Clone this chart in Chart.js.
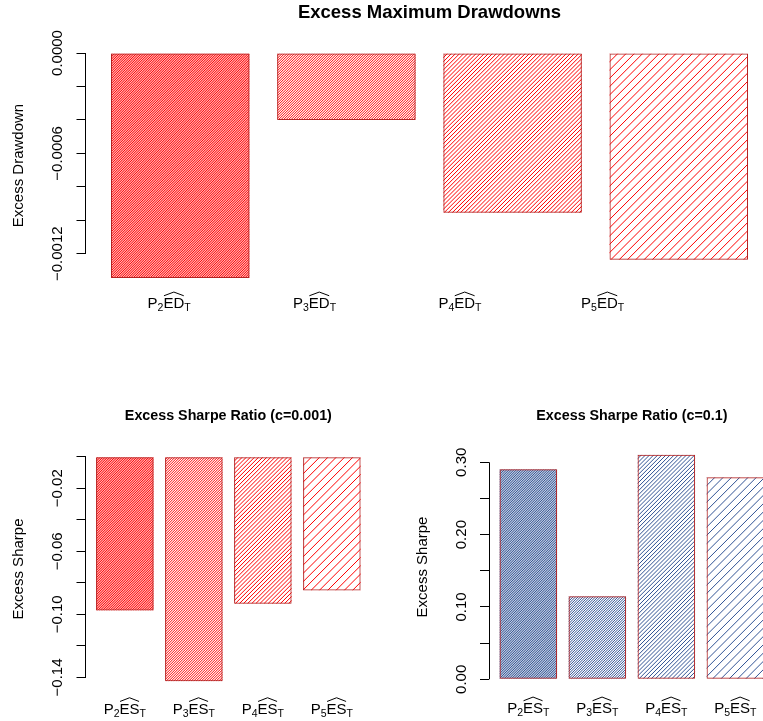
<!DOCTYPE html>
<html>
<head>
<meta charset="utf-8">
<script src="https://cdn.jsdelivr.net/npm/chart.js@4.4.1/dist/chart.umd.min.js"></script>
<style>
  html, body { margin: 0; padding: 0; background: #fff; overflow: hidden; width: 763px; height: 721px; }
  canvas { position: absolute; display: block; }
</style>
</head>
<body>
<canvas id="drawdown" width="790" height="330" style="left:0;top:0"></canvas>
<canvas id="sharpeLow" width="381" height="331" style="left:0;top:390px"></canvas>
<canvas id="sharpeHigh" width="420" height="331" style="left:381px;top:390px"></canvas>
<script>
// ---- data ----
const portfolios = ['2', '3', '4', '5'];            // subscript of P in each category label
const drawdownValues = [-0.001345, -0.000400, -0.000955, -0.001236];
const sharpeLowValues = [-0.0975, -0.1424, -0.0932, -0.0848];   // c = 0.001
const sharpeHighValues = [0.2903, 0.1147, 0.3105, 0.2792];      // c = 0.1

const drawdownTicks = [0, -0.0002, -0.0004, -0.0006, -0.0008, -0.0010, -0.0012];
const drawdownTickLabels = ['0.0000', '', '', '\u22120.0006', '', '', '\u22120.0012'];
const sharpeLowTicks = [0, -0.02, -0.04, -0.06, -0.08, -0.10, -0.12, -0.14];
const sharpeLowTickLabels = ['', '\u22120.02', '', '\u22120.06', '', '\u22120.10', '', '\u22120.14'];
const sharpeHighTicks = [0, 0.05, 0.10, 0.15, 0.20, 0.25, 0.30];
const sharpeHighTickLabels = ['0.00', '', '0.10', '', '0.20', '', '0.30'];

// ---- layout helpers ----
const FAMILY = '"Liberation Sans", Arial, Helvetica, sans-serif';
const BAR_W = 1, BAR_SPACE = 0.2;                      // barplot-style geometry
const barCenters = portfolios.map((_, i) => BAR_SPACE + BAR_W / 2 + i * (BAR_W + BAR_SPACE));
const xLo = BAR_SPACE, xHi = portfolios.length * (BAR_W + BAR_SPACE);
const xPad = 0.04 * (xHi - xLo);
// category label slots on the top panel's x scale
const drawdownLabelSlots = [0.62, 1.67, 2.72, 3.75];

const hatchSpacing = [1.7, 2.5, 4.1, 8.3];              // horizontal gap between hatch lines

function yRange(values) {
  const lo = Math.min(0, ...values), hi = Math.max(0, ...values);
  const pad = 0.04 * (hi - lo);
  return { min: lo - pad, max: hi + pad };
}

const measureCtx = document.createElement('canvas').getContext('2d');
function widestLabel(labels, size) {
  measureCtx.font = size + 'px ' + FAMILY;
  return Math.max(...labels.map(l => measureCtx.measureText(l).width));
}

// diagonal hatch fill drawn inside each bar before the bar outline
const hatchPlugin = {
  id: 'hatchFill',
  beforeDatasetsDraw(chart, args, opts) {
    const ctx = chart.ctx;
    chart.getDatasetMeta(0).data.forEach((bar, i) => {
      const p = bar.getProps(['x', 'y', 'base', 'width'], true);
      const l = p.x - p.width / 2, r = p.x + p.width / 2;
      const t = Math.min(p.y, p.base), b = Math.max(p.y, p.base);
      const s = opts.spacing[i];
      ctx.save();
      ctx.beginPath();
      ctx.rect(l, t, r - l, b - t);
      ctx.clip();
      ctx.strokeStyle = opts.color;
      ctx.lineWidth = opts.lineWidth;
      ctx.beginPath();
      for (let c = l + t; c <= r + b + s; c += s) {
        ctx.moveTo(c - b, b);
        ctx.lineTo(c - t, t);
      }
      ctx.stroke();
      ctx.restore();
    });
  }
};

// y axis line running from the first to the last tick
const axisLinePlugin = {
  id: 'axisLine',
  afterDraw(chart) {
    const ys = chart.scales.y, ctx = chart.ctx;
    const px = ys.ticks.map(t => ys.getPixelForValue(t.value));
    const x = Math.round(ys.right - 0.5) + 0.5;
    ctx.save();
    ctx.strokeStyle = '#000';
    ctx.lineWidth = 1;
    ctx.beginPath();
    ctx.moveTo(x, Math.min(...px));
    ctx.lineTo(x, Math.max(...px));
    ctx.stroke();
    ctx.restore();
  }
};

// category labels of the form P_k followed by a hatted stem with subscript T
const hatLabelPlugin = {
  id: 'hatLabels',
  afterDraw(chart, args, o) {
    const ctx = chart.ctx, xs = chart.scales.x;
    const baseY = chart.chartArea.bottom + o.offset;
    const main = o.size + 'px ' + FAMILY;
    const sub = (o.size * 0.7) + 'px ' + FAMILY;
    const capH = o.size * 0.716;
    ctx.save();
    ctx.fillStyle = '#000';
    ctx.textBaseline = 'alphabetic';
    ctx.textAlign = 'left';
    o.slots.forEach((slot, i) => {
      const cx = xs.getPixelForValue(slot);
      ctx.font = main; const wP = ctx.measureText('P').width; const wStem = ctx.measureText(o.stem).width;
      ctx.font = sub; const wK = ctx.measureText(portfolios[i]).width; const wT = ctx.measureText('T').width;
      let x = cx - (wP + wK + wStem + wT) / 2;
      ctx.font = main; ctx.fillText('P', x, baseY); x += wP;
      ctx.font = sub; ctx.fillText(portfolios[i], x, baseY + o.subDrop); x += wK;
      ctx.font = main; ctx.fillText(o.stem, x, baseY);
      // wide hat over the stem
      ctx.beginPath();
      ctx.strokeStyle = '#000';
      ctx.lineWidth = 1;
      ctx.moveTo(x + 0.5, baseY - capH - 1.8);
      ctx.lineTo(x + wStem / 2, baseY - capH - 5.5);
      ctx.lineTo(x + wStem - 0.5, baseY - capH - 1.8);
      ctx.stroke();
      x += wStem;
      ctx.font = sub; ctx.fillText('T', x, baseY + o.subDrop);
    });
    ctx.restore();
  }
};

function makeChart(id, cfg) {
  const range = yRange(cfg.values);
  const tickSize = 15;
  const wid = widestLabel(cfg.tickLabels, tickSize);
  const tickPad = cfg.axisX - 9 - cfg.tickLabelX - wid / 2;
  return new Chart(document.getElementById(id), {
    type: 'bar',
    data: {
      datasets: [{
        data: cfg.values.map((v, i) => ({ x: barCenters[i], y: v })),
        backgroundColor: 'rgba(0,0,0,0)',
        borderColor: '#B22222',
        borderWidth: 1,
        borderSkipped: false,
        inflateAmount: 0,
        categoryPercentage: 1,
        barPercentage: BAR_W / (BAR_W + BAR_SPACE)
      }]
    },
    options: {
      responsive: false,
      animation: false,
      devicePixelRatio: 1,
      layout: { padding: cfg.padding },
      scales: {
        x: {
          type: 'linear',
          display: false,
          offset: false,
          min: xLo - xPad,
          max: xHi + xPad,
          afterBuildTicks: s => { s.ticks = barCenters.map(v => ({ value: v })); }
        },
        y: {
          min: range.min,
          max: range.max,
          afterBuildTicks: s => { s.ticks = cfg.ticks.map(v => ({ value: v })); },
          afterFit: s => { s.width = cfg.axisX; },
          ticks: {
            autoSkip: false,
            minRotation: 90,
            maxRotation: 90,
            crossAlign: 'center',
            padding: tickPad,
            color: '#000',
            font: { family: FAMILY, size: tickSize },
            callback: (v, i) => cfg.tickLabels[i]
          },
          grid: { drawOnChartArea: false, drawTicks: true, tickLength: 9, color: '#000', lineWidth: 1 },
          border: { display: false },
          title: {
            display: true,
            text: cfg.yTitle,
            color: '#000',
            font: { family: FAMILY, size: 15 },
            padding: { top: cfg.yTitleX - 9, bottom: 0 }
          }
        }
      },
      plugins: {
        legend: { display: false },
        tooltip: { enabled: false },
        title: {
          display: true,
          text: cfg.title,
          fullSize: false,
          color: '#000',
          font: { family: FAMILY, size: cfg.titleSize, weight: 'bold' },
          padding: cfg.titlePadding
        },
        hatchFill: { spacing: hatchSpacing, color: cfg.hatchColor, lineWidth: 1 },
        hatLabels: { slots: cfg.labelSlots, stem: cfg.stem, size: 15, offset: cfg.labelOffset, subDrop: 3 }
      }
    },
    plugins: [hatchPlugin, axisLinePlugin, hatLabelPlugin]
  });
}

makeChart('drawdown', {
  values: drawdownValues,
  ticks: drawdownTicks,
  tickLabels: drawdownTickLabels,
  title: 'Excess Maximum Drawdowns',
  titleSize: 18.5,
  titlePadding: { top: 1.9, bottom: 19.9 },
  yTitle: 'Excess Drawdown',
  yTitleX: 19,
  axisX: 85.5,
  tickLabelX: 58.2,
  padding: { left: 0, top: 0, right: 16.5, bottom: 43 },
  hatchColor: '#FF0000',
  labelSlots: drawdownLabelSlots,
  stem: 'ED',
  labelOffset: 21.3
});

makeChart('sharpeLow', {
  values: sharpeLowValues,
  ticks: sharpeLowTicks,
  tickLabels: sharpeLowTickLabels,
  title: 'Excess Sharpe Ratio (c=0.001)',
  titleSize: 14.3,
  titlePadding: { top: 17.1, bottom: 23.44 },
  yTitle: 'Excess Sharpe',
  yTitleX: 19,
  axisX: 85.5,
  tickLabelX: 58.2,
  padding: { left: 0, top: 0, right: 9.8, bottom: 30.8 },
  hatchColor: '#FF0000',
  labelSlots: barCenters,
  stem: 'ES',
  labelOffset: 23.8
});

makeChart('sharpeHigh', {
  values: sharpeHighValues,
  ticks: sharpeHighTicks,
  tickLabels: sharpeHighTickLabels,
  title: 'Excess Sharpe Ratio (c=0.1)',
  titleSize: 14.3,
  titlePadding: { top: 17.1, bottom: 21.44 },
  yTitle: 'Excess Sharpe',
  yTitleX: 42,
  axisX: 108,
  tickLabelX: 80.4,
  padding: { left: 0, top: 0, right: 26.3, bottom: 32.7 },
  hatchColor: '#315394',
  labelSlots: barCenters,
  stem: 'ES',
  labelOffset: 25
});
</script>
</body>
</html>
